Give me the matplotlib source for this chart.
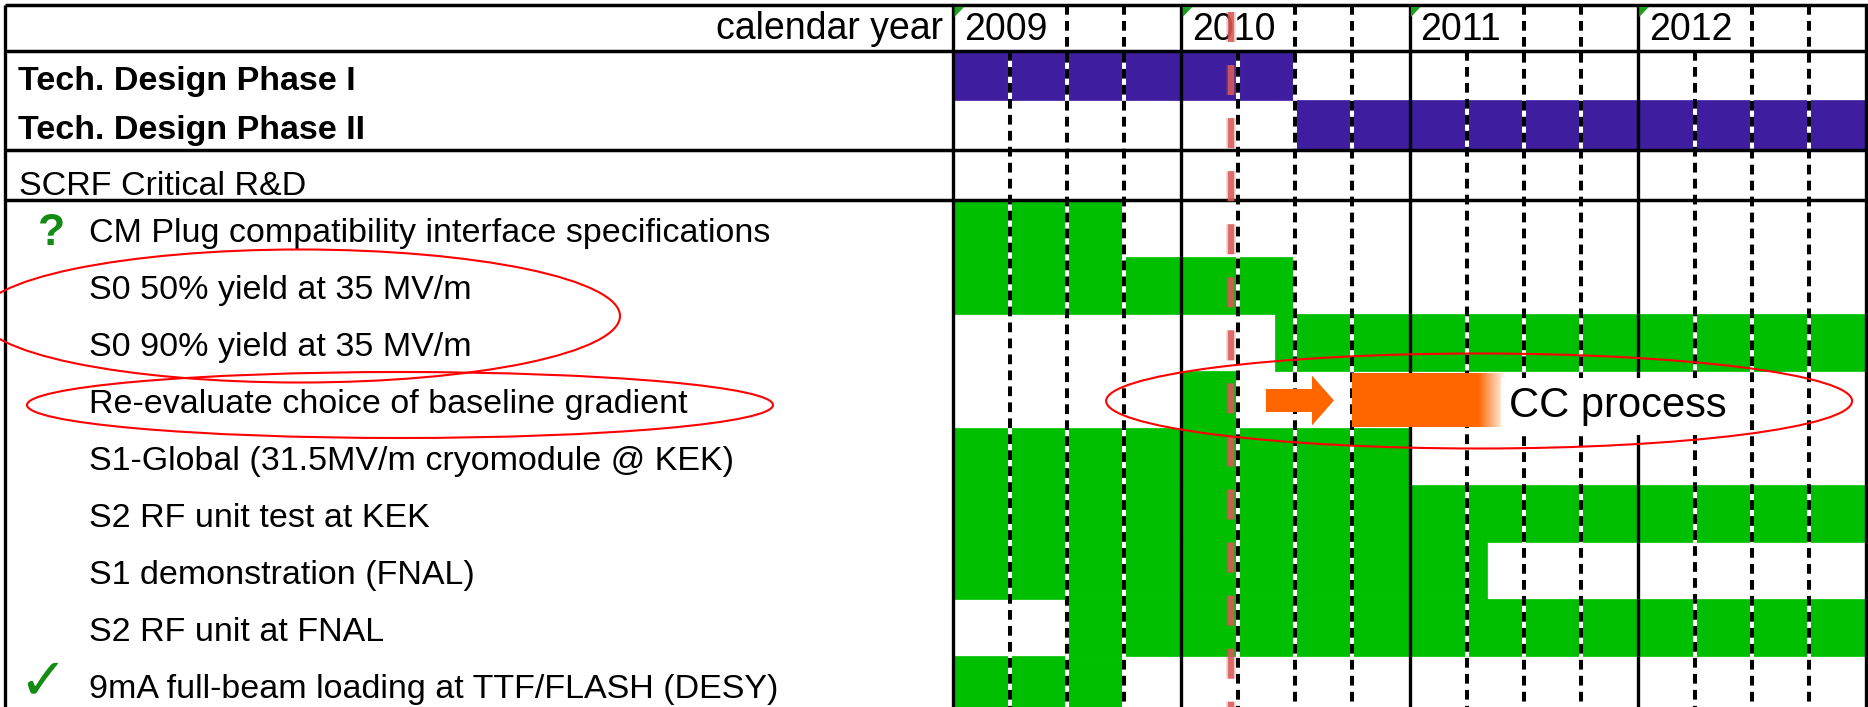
import numpy as np
import matplotlib.pyplot as plt
from matplotlib.colors import to_rgb
from matplotlib.patches import Ellipse, FancyArrow, Polygon

plt.rcParams['font.family'] = ['Liberation Sans', 'DejaVu Sans']
plt.rcParams['lines.scale_dashes'] = False

# ---- data (time axis in calendar years) ----
years = [2009, 2010, 2011, 2012]

phase_labels = ['Tech. Design Phase I', 'Tech. Design Phase II']
phase_start = [2009.0, 2010.5]
phase_end = [2010.5, 2013.0]

section_label = 'SCRF Critical R&D'

task_labels = ['CM Plug compatibility interface specifications',
               'S0 50% yield at 35 MV/m',
               'S0 90% yield at 35 MV/m',
               'Re-evaluate choice of baseline gradient',
               'S1-Global (31.5MV/m cryomodule @ KEK)',
               'S2 RF unit test at KEK',
               'S1 demonstration (FNAL)',
               'S2 RF unit at FNAL',
               '9mA full-beam loading at TTF/FLASH (DESY)']
task_start = [2009.0, 2009.0, 2010.41, 2010.0, 2009.0, 2009.0, 2009.0, 2009.5, 2009.0]
task_end = [2009.75, 2010.5, 2013.0, 2010.24, 2011.0, 2013.0, 2011.34, 2013.0, 2009.75]
task_marks = ['?', '', '', '', '', '', '', '', '\u2713']

today = 2010.22                       # red dashed "now" marker
cc_arrow = [2010.371, 2010.669]       # arrow tail, tip
cc_bar = [2010.748, 2011.30, 2011.42]  # start, fade start, end
cc_text = 'CC process'
cc_row = 3

# ---- layout (pixels) ----
W, H = 1868, 707
X0, X1 = 953, 1866
ppy = (X1 - X0) / 4.0
head_top, head_bot = 5, 51
phase_tops = [51, 100]
phase_h = [49, 50]
sec_top, sec_bot = 150, 200
row_h = 57
task_tops = [sec_bot + row_h * i for i in range(len(task_labels))]

PURPLE = '#3E1E9F'
GREEN = '#00BE00'
ORANGE = '#FF6600'
MARK_GREEN = '#148C14'

fig = plt.figure(figsize=(W / 100, H / 100), dpi=100)
ax_lab = fig.add_axes([0, 0, X0 / W, 1])
ax_lab.set_xlim(0, X0)
ax_lab.set_ylim(H, 0)
ax_lab.axis('off')

ax = fig.add_axes([X0 / W, 0, (X1 - X0) / W, 1])
ax.axis('off')

# bars
for s, e, t, h in zip(phase_start, phase_end, phase_tops, phase_h):
    ax.barh(t + h / 2, e - s, left=s, height=h, color=PURPLE,
            edgecolor=PURPLE, linewidth=0.5, zorder=1)
for s, e, t in zip(task_start, task_end, task_tops):
    ax.barh(t + row_h / 2, e - s, left=s, height=row_h, color=GREEN,
            edgecolor=GREEN, linewidth=0.5, zorder=1)

# quarter grid: white underlay + black dashes
for y in years:
    for q in (0.25, 0.5, 0.75):
        top = head_bot if q == 0.25 else head_top
        ax.plot([y + q] * 2, [top, H], color='white', lw=2.9, zorder=2,
                solid_capstyle='butt')
        ax.plot([y + q] * 2, [top, H], color='black', lw=2.9, zorder=3,
                ls=(0, (7, 4.5)), dash_capstyle='butt')

# year lines and frame
for y in years + [2013]:
    ax.plot([y, y], [head_top, H], color='black', lw=2.4, zorder=4,
            clip_on=False, solid_capstyle='butt')
for yy in [head_top, head_bot, sec_top, sec_bot]:
    ax.axhline(yy, color='black', lw=2.5, zorder=4, clip_on=False)
    ax_lab.hlines(yy, 5, X0, color='black', lw=2.5, zorder=4)
ax_lab.vlines(5, head_top, H, color='black', lw=2.4, zorder=4)

# header
for y in years:
    ax.add_patch(Polygon([(y + 1.5 / ppy, head_top + 2), (y + 11 / ppy, head_top + 2),
                          (y + 1.5 / ppy, head_top + 12)],
                         closed=True, color='#1E9E1E', lw=0, zorder=5))
    ax.text(y + 11 / ppy, 40, str(y), fontsize=27, ha='left', va='baseline', zorder=6)
ax_lab.text(943, 39, 'calendar year', fontsize=27, ha='right', va='baseline')

# left labels
for lab, t in zip(phase_labels, phase_tops):
    ax_lab.text(18, t + 39, lab, fontsize=24.5, weight='bold', va='baseline')
ax_lab.text(19, 195, section_label, fontsize=24.5, va='baseline')
for lab, mk, t in zip(task_labels, task_marks, task_tops):
    ax_lab.text(89, t + 42, lab, fontsize=24.5, va='baseline')
    if mk == '?':
        ax_lab.text(38, t + 45, mk, fontsize=32, weight='bold', color=MARK_GREEN,
                    va='baseline')
    elif mk:
        ax_lab.text(18, t + 42, mk, fontsize=42, weight='bold', color=MARK_GREEN,
                    va='baseline', family=['DejaVu Sans'])

# CC process arrow, fading bar and label
y_cc = task_tops[cc_row] + row_h / 2 + 1
ax.add_patch(FancyArrow(cc_arrow[0], y_cc, cc_arrow[1] - cc_arrow[0], 0,
                        width=23, head_width=50, head_length=22 / ppy,
                        length_includes_head=True, color=ORANGE, lw=0, zorder=5))
xs = np.linspace(cc_bar[0], cc_bar[2], 400)
grad = np.zeros((1, len(xs), 4))
grad[..., :3] = to_rgb(ORANGE)
grad[0, :, 3] = np.clip((cc_bar[2] - xs) / (cc_bar[2] - cc_bar[1]), 0, 1)
ax.imshow(grad, extent=[cc_bar[0], cc_bar[2], y_cc + 27, y_cc - 27],
          aspect='auto', interpolation='bilinear', zorder=5)
ax.text(cc_bar[2] + 4 / ppy, y_cc + 17, cc_text, fontsize=30, va='baseline',
        zorder=6, bbox=dict(boxstyle='square,pad=0.2', fc='white', ec='none'))

# today marker
ax.plot([today] * 2, [12, H], color='#D85A5A', lw=7, alpha=0.25, zorder=7,
        ls=(0, (21.6, 16.6)), dash_capstyle='butt')
ax.plot([today] * 2, [12, H], color='#D85A5A', lw=4.5, alpha=0.85, zorder=7,
        ls=(0, (21.6, 16.6)), dash_capstyle='butt')

# hand-drawn highlight ellipses
ax_lab.add_patch(Ellipse((300, 316), 640, 133, fill=False, ec='red', lw=1.5,
                         zorder=8, clip_on=False))
ax_lab.add_patch(Ellipse((400, 405), 746, 66, fill=False, ec='red', lw=1.5,
                         zorder=8, clip_on=False))
ax.add_patch(Ellipse((2011.305, 401), 3.268, 95, fill=False, ec='red', lw=1.5,
                     zorder=8, clip_on=False))

ax.set_xlim(2009, 2013)
ax.set_ylim(H, 0)

fig.savefig('out.png', dpi=100)
